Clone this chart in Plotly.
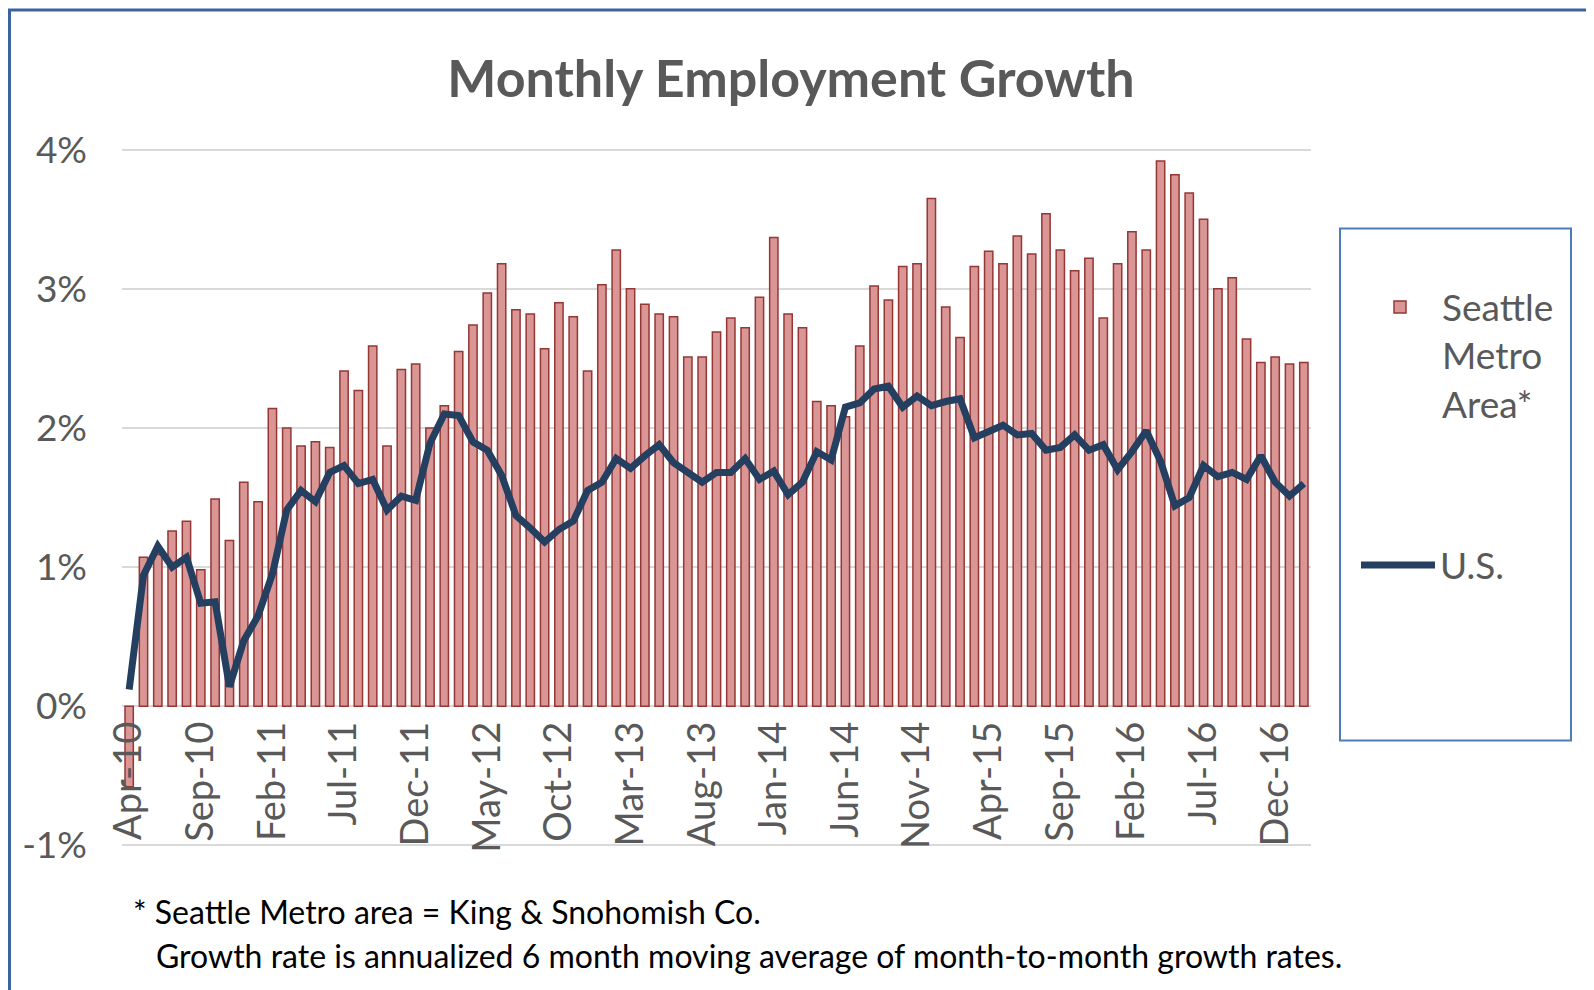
import pandas as pd
import plotly.graph_objects as go

# ---------------- data ----------------
months = list(pd.date_range("2010-04-01", periods=83, freq="MS").strftime("%b-%y"))

seattle = [
    -0.58, 1.07, 1.09, 1.26, 1.33, 0.98, 1.49, 1.19, 1.61, 1.47,   # Apr-10 .. Jan-11
    2.14, 2.00, 1.87, 1.90, 1.86, 2.41, 2.27, 2.59, 1.87, 2.42,    # Feb-11 .. Nov-11
    2.46, 2.00, 2.16, 2.55, 2.74, 2.97, 3.18, 2.85, 2.82, 2.57,    # Dec-11 .. Sep-12
    2.90, 2.80, 2.41, 3.03, 3.28, 3.00, 2.89, 2.82, 2.80, 2.51,    # Oct-12 .. Jul-13
    2.51, 2.69, 2.79, 2.72, 2.94, 3.37, 2.82, 2.72, 2.19, 2.16,    # Aug-13 .. May-14
    2.08, 2.59, 3.02, 2.92, 3.16, 3.18, 3.65, 2.87, 2.65, 3.16,    # Jun-14 .. Mar-15
    3.27, 3.18, 3.38, 3.25, 3.54, 3.28, 3.13, 3.22, 2.79, 3.18,    # Apr-15 .. Jan-16
    3.41, 3.28, 3.92, 3.82, 3.69, 3.50, 3.00, 3.08, 2.64, 2.47,    # Feb-16 .. Nov-16
    2.51, 2.46, 2.47,                                              # Dec-16 .. Feb-17
]

us = [
    0.12, 0.94, 1.15, 1.00, 1.07, 0.74, 0.75, 0.14, 0.47, 0.65,    # Apr-10 .. Jan-11
    0.95, 1.41, 1.55, 1.47, 1.68, 1.73, 1.60, 1.63, 1.41, 1.51,    # Feb-11 .. Nov-11
    1.48, 1.89, 2.10, 2.09, 1.90, 1.84, 1.66, 1.37, 1.28, 1.18,    # Dec-11 .. Sep-12
    1.27, 1.33, 1.55, 1.61, 1.78, 1.71, 1.80, 1.88, 1.75, 1.68,    # Oct-12 .. Jul-13
    1.61, 1.68, 1.68, 1.78, 1.63, 1.69, 1.52, 1.61, 1.83, 1.77,    # Aug-13 .. May-14
    2.15, 2.18, 2.28, 2.30, 2.15, 2.23, 2.16, 2.19, 2.21, 1.93,    # Jun-14 .. Mar-15
    1.97, 2.02, 1.95, 1.96, 1.84, 1.86, 1.95, 1.84, 1.88, 1.70,    # Apr-15 .. Jan-16
    1.83, 1.98, 1.76, 1.44, 1.50, 1.73, 1.65, 1.68, 1.63, 1.80,    # Feb-16 .. Nov-16
    1.61, 1.51, 1.60,                                              # Dec-16 .. Feb-17
]

y_ticks = [-1, 0, 1, 2, 3, 4]
y_tick_labels = ["-1%", "0%", "1%", "2%", "3%", "4%"]

title_text = "Monthly Employment Growth"
series_names = ["Seattle<br>Metro<br>Area*", "U.S."]
footnote_1 = "* Seattle Metro area = King &amp; Snohomish Co."
footnote_2 = "Growth rate is annualized 6 month moving average of month-to-month growth rates."

# ---------------- layout geometry ----------------
# the page body has an 8px margin, so the figure starts at (8, 8) on screen
OFF = 8
W, H = 1594 - OFF, 990 - OFF
# plot area on screen (4% line at ~149, -1% line at ~845)
SL, SR, ST, SB = 122, 1311, 146.6, 847.6
L, R, T, B = SL - OFF, SR - OFF, ST - OFF, SB - OFF
PW, PH = R - L, B - T
Y_MIN, Y_MAX = -1.02, 4.02


def px_x(x):
    """screen x pixel -> paper fraction"""
    return (x - OFF - L) / PW


def px_y(y):
    """screen y pixel -> paper fraction"""
    return (B - (y - OFF)) / PH


GRAY = "#595959"
FONT = "Lato"

fig = go.Figure()
fig.add_trace(go.Bar(
    x=months, y=seattle, name=series_names[0],
    marker=dict(color="#d99694", line=dict(color="#953735", width=1.5)),
    legend="legend", showlegend=True,
))
fig.add_trace(go.Scatter(
    x=months, y=us, name=series_names[1], mode="lines",
    line=dict(color="#243f60", width=7),
    legend="legend2", showlegend=True,
))

fig.update_layout(
    width=W, height=H,
    margin=dict(l=L, r=W - R, t=T, b=H - B, autoexpand=False),
    paper_bgcolor="white", plot_bgcolor="white",
    bargap=0.42,
    showlegend=True,
    font=dict(family=FONT, color=GRAY),
    title=dict(text="<b>" + title_text + "</b>", x=(791 - OFF) / W, xref="container",
               xanchor="center", y=1 - (79 - OFF) / H, yref="container", yanchor="middle",
               font=dict(family=FONT, size=52, color=GRAY)),
    xaxis=dict(
        type="category", tickmode="linear", tick0=0, dtick=5,
        tickangle=-90, tickfont=dict(family=FONT, size=38, color=GRAY),
        showgrid=False, zeroline=False, showline=False,
        anchor="free", position=(0 - Y_MIN) / (Y_MAX - Y_MIN), ticklabelstandoff=7,
    ),
    yaxis=dict(
        range=[Y_MIN, Y_MAX], tickmode="array", tickvals=y_ticks, ticktext=y_tick_labels,
        tickfont=dict(family=FONT, size=37, color=GRAY),
        showgrid=True, gridcolor="#d9d9d9", gridwidth=2,
        zeroline=True, zerolinecolor="#d9d9d9", zerolinewidth=2,
        showline=False, ticklabelstandoff=34,
    ),
    legend=dict(
        visible=True,
        x=px_x(1358), y=px_y(276), xanchor="left", yanchor="top",
        font=dict(family=FONT, size=37, color=GRAY), itemwidth=74,
        valign="top", bgcolor="rgba(0,0,0,0)",
    ),
    legend2=dict(
        visible=True,
        x=px_x(1356), y=px_y(565), xanchor="left", yanchor="middle",
        font=dict(family=FONT, size=37, color=GRAY), itemwidth=74,
        bgcolor="rgba(0,0,0,0)",
    ),
    shapes=[
        # outer frame
        dict(type="rect", xref="paper", yref="paper",
             x0=px_x(9.5), x1=px_x(1620), y0=px_y(1020), y1=px_y(9.5),
             line=dict(color="#3a63a0", width=3), layer="below"),
        # legend box
        dict(type="rect", xref="paper", yref="paper",
             x0=px_x(1340), x1=px_x(1571), y0=px_y(740), y1=px_y(228),
             line=dict(color="#4a7ebb", width=2), layer="below"),
    ],
    annotations=[
        dict(text=footnote_1, xref="paper", yref="paper", x=px_x(131), y=px_y(911),
             xanchor="left", yanchor="middle", showarrow=False,
             font=dict(family=FONT, size=32, color="#000000")),
        dict(text=footnote_2, xref="paper", yref="paper", x=px_x(154), y=px_y(955),
             xanchor="left", yanchor="middle", showarrow=False,
             font=dict(family=FONT, size=32, color="#000000")),
    ],
)

fig.write_html("out.html")
